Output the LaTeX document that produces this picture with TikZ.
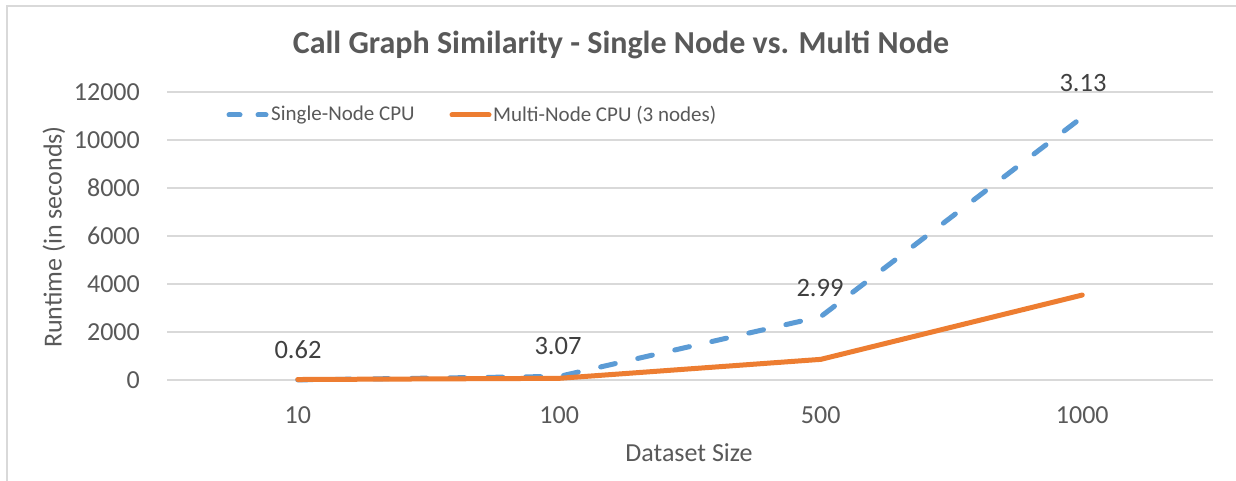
\documentclass[tikz,border=0pt]{standalone}
\usepackage{fontspec}
\setmainfont{Carlito}
\definecolor{gridc}{HTML}{D9D9D9}
\definecolor{txt}{HTML}{595959}
\definecolor{lbl}{HTML}{404040}
\definecolor{sblue}{HTML}{5B9BD5}
\definecolor{sorange}{HTML}{ED7D31}
\begin{document}
\begin{tikzpicture}[x=1pt,y=1pt,
  gridline/.style={draw=gridc,line width=1.5pt},
  ticklbl/.style={text=txt,font=\fontsize{26}{31}\selectfont,inner sep=0pt},
  leglbl/.style={text=txt,font=\fontsize{21}{25}\selectfont,inner sep=0pt},
  datalbl/.style={text=lbl,font=\fontsize{26.5}{31}\selectfont,inner sep=0pt},
  singleline/.style={draw=sblue,line width=5pt,line cap=round,line join=round,dash pattern=on 15pt off 23pt},
  multiline/.style={draw=sorange,line width=5pt,line cap=round,line join=round}]
\useasboundingbox (0,0) rectangle (1236,480);
\fill[white] (0,0) rectangle (1236,480);
% chart border (cropped right and bottom)
\draw[gridc,line width=1.5pt] (7,-10) -- (7,474) -- (1246,474);
% title
\node[text=txt,font=\fontsize{32}{38}\bfseries\selectfont,inner sep=0pt] (title) at (621,435) {Call Graph Similarity - Single Node vs. Multi Node};
% gridlines and y tick labels
\foreach \v/\nm in {0/g0,2000/g1,4000/g2,6000/g3,8000/g4,10000/g5,12000/g6}{
  \draw[gridline] (167,{100+\v*0.024}) -- (1213,{100+\v*0.024});
  \node[ticklbl,anchor=east] (\nm) at (140,{100+\v*0.024}) {\v};
}
% x tick labels
\foreach \i/\c in {0/10,1/100,2/500,3/1000}{
  \node[ticklbl] (x\i) at ({297.75+261.5*\i},65) {\c};
}
% axis titles
\node[ticklbl,rotate=90] (ytitle) at (54,243) {Runtime (in seconds)};
\node[ticklbl] (xtitle) at (689,27) {Dataset Size};
% data coordinates
\coordinate (s0) at (297.75,{100+5*0.024});
\coordinate (s1) at (559.25,{100+150*0.024});
\coordinate (s2) at (820.75,{100+2640*0.024});
\coordinate (s3) at (1082.25,{100+10950*0.024});
\coordinate (m0) at (297.75,{100+20*0.024});
\coordinate (m1) at (559.25,{100+70*0.024});
\coordinate (m2) at (820.75,{100+860*0.024});
\coordinate (m3) at (1082.25,{100+3540*0.024});
\draw[singleline] (s0) -- (s1) -- (s2) -- (s3);
\draw[multiline] (m0) -- (m1) -- (m2) -- (m3);
% data labels
\node[datalbl] (d0) at (298,130) {0.62};
\node[datalbl] (d1) at (558,134) {3.07};
\node[datalbl] (d2) at (820,192) {2.99};
\node[datalbl] (d3) at (1083,397) {3.13};
% legend
\coordinate (l1a) at (229,365);
\coordinate (l1b) at (266,365);
\draw[singleline,dash pattern=on 11pt off 18pt] (l1a) -- (l1b);
\node[leglbl,anchor=west] (leg1) at (271,365) {Single-Node CPU};
\coordinate (l2a) at (452,365);
\coordinate (l2b) at (489,365);
\draw[multiline] (l2a) -- (l2b);
\node[leglbl,anchor=west] (leg2) at (493,365) {Multi-Node CPU (3 nodes)};
\end{tikzpicture}
\end{document}
